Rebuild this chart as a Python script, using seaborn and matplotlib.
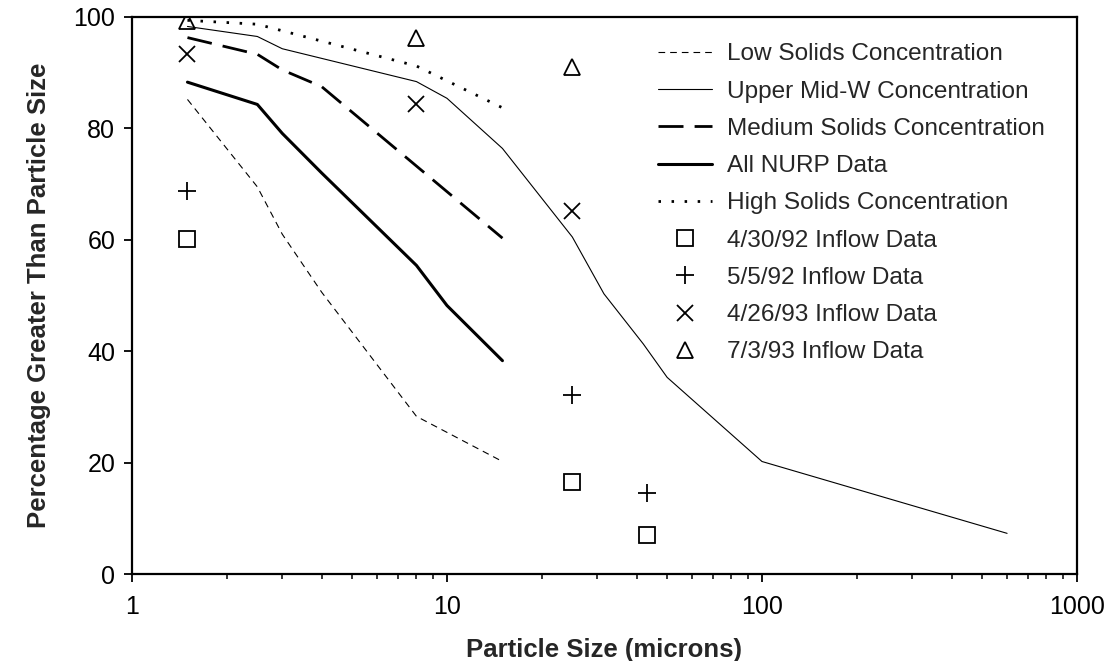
import matplotlib
matplotlib.use("Agg")
import matplotlib.pyplot as plt
from matplotlib.ticker import FixedLocator, FixedFormatter, LogLocator, NullFormatter, NullLocator
import seaborn as sns
import pandas as pd

# Particle size distributions (percent of particles greater than a given size, microns)
low_size = [1.5, 2.5, 3, 4, 8, 15]
low_pct = [85.2, 69.5, 61.0, 50.6, 28.3, 20.2]

upper_size = [1.5, 2.5, 3, 8, 10, 15, 25, 31.5, 42, 50, 100, 600]
upper_pct = [98.3, 96.5, 94.3, 88.4, 85.4, 76.4, 60.5, 50.3, 41.3, 35.3, 20.2, 7.3]

medium_size = [1.5, 2.5, 3, 4, 15]
medium_pct = [96.3, 93.3, 90.5, 87.5, 60.3]

nurp_size = [1.5, 2.5, 3, 4, 8, 10, 15]
nurp_pct = [88.3, 84.3, 79.1, 72.0, 55.4, 48.2, 38.3]

high_size = [1.5, 2.5, 8, 15]
high_pct = [99.4, 98.7, 91.2, 83.7]

# Measured inflow samples
inflow_0430_size = [1.5, 25, 43]
inflow_0430_pct = [60.2, 16.6, 7.0]

inflow_0505_size = [1.5, 25, 43]
inflow_0505_pct = [68.7, 32.1, 14.6]

inflow_0426_size = [1.5, 8, 25]
inflow_0426_pct = [93.3, 84.3, 65.1]

inflow_0703_size = [1.5, 8, 25]
inflow_0703_pct = [99.2, 96.2, 91.1]

x_ticks = [1, 10, 100, 1000]
x_tick_labels = ["1", "10", "100", "1000"]
y_ticks = [0, 20, 40, 60, 80, 100]

sns.set_theme(style="ticks")
plt.rcParams["font.family"] = ["Liberation Sans", "DejaVu Sans"]

fig = plt.figure(figsize=(11.12, 6.61), dpi=100)
ax = fig.add_axes([0.1187, 0.1316, 0.8498, 0.8427])

curves = [
    ("Low Solids Concentration", low_size, low_pct, dict(lw=0.8, dashes=(6, 4.5))),
    ("Upper Mid-W Concentration", upper_size, upper_pct, dict(lw=0.8)),
    ("Medium Solids Concentration", medium_size, medium_pct, dict(lw=2.0, dashes=(9, 4))),
    ("All NURP Data", nurp_size, nurp_pct, dict(lw=2.2)),
    ("High Solids Concentration", high_size, high_pct, dict(lw=2.0, dashes=(0.9, 3.8))),
]
for label, xs, ys, style in curves:
    df = pd.DataFrame({"size": xs, "pct": ys})
    sns.lineplot(data=df, x="size", y="pct", ax=ax, color="black", label=label,
                 sort=False, estimator=None, **style)

samples = [
    ("4/30/92 Inflow Data", inflow_0430_size, inflow_0430_pct, "s", 12),
    ("5/5/92 Inflow Data", inflow_0505_size, inflow_0505_pct, "+", 13),
    ("4/26/93 Inflow Data", inflow_0426_size, inflow_0426_pct, "x", 12),
    ("7/3/93 Inflow Data", inflow_0703_size, inflow_0703_pct, "^", 12),
]
for label, xs, ys, mk, ms in samples:
    df = pd.DataFrame({"size": xs, "pct": ys})
    sns.lineplot(data=df, x="size", y="pct", ax=ax, label=label, linestyle="",
                 marker=mk, markersize=ms, markerfacecolor="none",
                 markeredgecolor="black", markeredgewidth=1.3, color="black",
                 sort=False, estimator=None)

ax.set_xscale("log")
ax.set_xlim(1, 1000)
ax.set_ylim(0, 100)
ax.xaxis.set_major_locator(FixedLocator(x_ticks))
ax.xaxis.set_major_formatter(FixedFormatter(x_tick_labels))
ax.xaxis.set_minor_locator(LogLocator(base=10, subs=range(2, 10)))
ax.xaxis.set_minor_formatter(NullFormatter())
ax.yaxis.set_major_locator(FixedLocator(y_ticks))
ax.yaxis.set_minor_locator(NullLocator())

for side in ["left", "right", "top", "bottom"]:
    ax.spines[side].set_visible(True)
    ax.spines[side].set_color("black")
    ax.spines[side].set_linewidth(1.6)

ax.tick_params(axis="both", which="major", direction="out", length=6, width=1.3,
               colors="black", labelsize=18, pad=6)
ax.tick_params(axis="x", which="major", pad=9)
ax.tick_params(axis="x", which="minor", direction="out", length=3.5, width=1.1,
               colors="black")

ax.set_xlabel("Particle Size (microns)", fontsize=18.5, fontweight="bold", labelpad=14)
ax.set_ylabel("Percentage Greater Than Particle Size", fontsize=18.5,
              fontweight="bold", labelpad=16)
ax.grid(False)
ax.set_facecolor("white")

leg = ax.legend(loc="upper left", bbox_to_anchor=(0.557, 0.953), frameon=False,
                fontsize=17.6, handlelength=2.2, handletextpad=0.6,
                labelspacing=0.62, borderaxespad=0, borderpad=0)

fig.savefig("out.png", dpi=100, facecolor="white")
